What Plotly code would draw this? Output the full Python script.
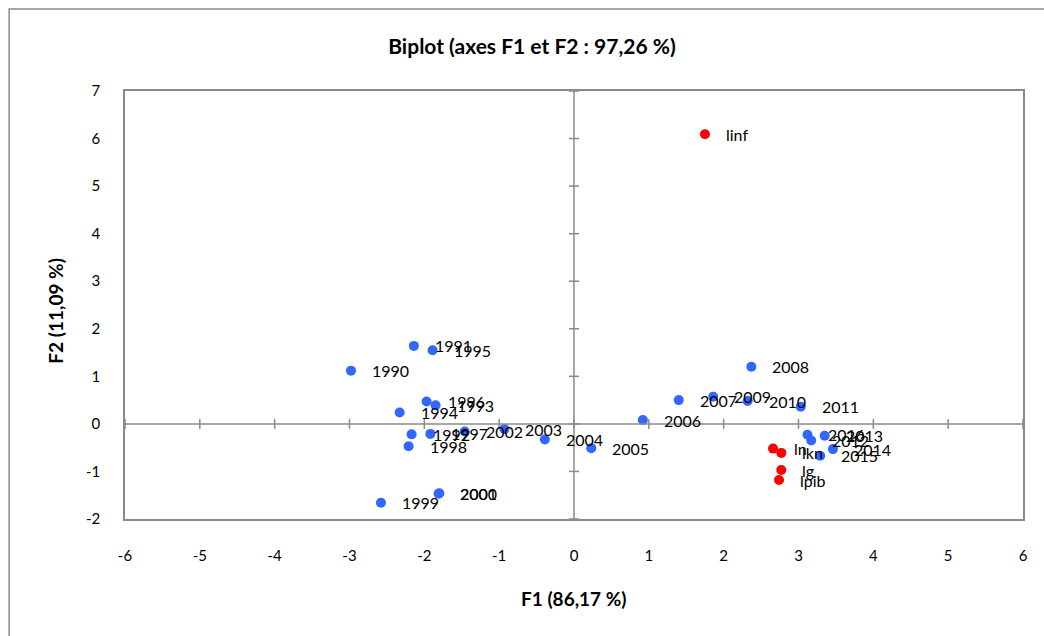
import plotly.graph_objects as go

# Observations (years)
obs_labels = ["1990", "1991", "1992", "1993", "1994", "1995", "1996", "1997", "1998",
              "1999", "2000", "2001", "2002", "2003", "2004", "2005", "2006", "2007",
              "2008", "2009", "2010", "2011", "2012", "2013", "2014", "2015", "2016"]
obs_f1 = [-2.98, -2.14, -2.17, -1.85, -2.33, -1.89, -1.97, -1.92, -2.21,
          -2.58, -1.80, -1.81, -1.46, -0.93, -0.39, 0.23, 0.92, 1.40,
          2.37, 1.86, 2.32, 3.03, 3.17, 3.35, 3.46, 3.29, 3.12]
obs_f2 = [1.12, 1.64, -0.22, 0.39, 0.24, 1.55, 0.47, -0.21, -0.47,
          -1.66, -1.46, -1.47, -0.16, -0.11, -0.33, -0.51, 0.08, 0.50,
          1.20, 0.57, 0.48, 0.36, -0.35, -0.25, -0.53, -0.67, -0.23]

# Variables
var_labels = ["linf", "ln", "lkn", "lg", "lpib"]
var_f1 = [1.75, 2.66, 2.77, 2.77, 2.74]
var_f2 = [6.09, -0.52, -0.61, -0.97, -1.18]

x_ticks = [-6, -5, -4, -3, -2, -1, 0, 1, 2, 3, 4, 5, 6]
y_ticks = [-2, -1, 0, 1, 2, 3, 4, 5, 6, 7]

FONT = "Lato"
GRAY = "#8a8a8a"
BLUE = "#3366FF"
RED = "#FF0000"

fig = go.Figure()
fig.add_trace(go.Scatter(x=obs_f1, y=obs_f2, mode="markers",
                         marker=dict(color=BLUE, size=10), hoverinfo="skip"))
fig.add_trace(go.Scatter(x=var_f1, y=var_f2, mode="markers",
                         marker=dict(color=RED, size=10), hoverinfo="skip"))

annotations = []
for lab, xv, yv in list(zip(obs_labels, obs_f1, obs_f2)) + list(zip(var_labels, var_f1, var_f2)):
    annotations.append(dict(x=xv, y=yv, xref="x", yref="y", text=lab, showarrow=False,
                            xanchor="left", yanchor="middle", xshift=19,
                            font=dict(family=FONT, size=16, color="#000000")))

annotations.append(dict(x=0.5, y=-0.1846, xref="paper", yref="paper", text="<b>F1 (86,17 %)</b>",
                        showarrow=False, xanchor="center", yanchor="middle",
                        font=dict(family=FONT, size=19, color="#000000")))
annotations.append(dict(x=-0.0772, y=0.486, xref="paper", yref="paper", text="<b>F2 (11,09 %)</b>",
                        showarrow=False, xanchor="center", yanchor="middle", textangle=-90,
                        font=dict(family=FONT, size=19, color="#000000")))

shapes = []
# zero lines
shapes.append(dict(type="line", xref="x", yref="y", x0=x_ticks[0], x1=x_ticks[-1], y0=0, y1=0,
                   line=dict(color=GRAY, width=1.5)))
shapes.append(dict(type="line", xref="x", yref="y", x0=0, x1=0, y0=y_ticks[0], y1=y_ticks[-1],
                   line=dict(color=GRAY, width=1.5)))
# crossing tick marks on zero lines
for t in x_ticks:
    shapes.append(dict(type="line", xref="x", yref="y", ysizemode="pixel", yanchor=0,
                       x0=t, x1=t, y0=-5, y1=5, line=dict(color=GRAY, width=1.5)))
for t in y_ticks:
    shapes.append(dict(type="line", xref="x", yref="y", xsizemode="pixel", xanchor=0,
                       y0=t, y1=t, x0=-5, x1=5, line=dict(color=GRAY, width=1.5)))
# outer chart frame
shapes.append(dict(type="rect", xref="paper", yref="paper", x0=-0.129, x1=1.2, y0=-0.4, y1=1.1916,
                   line=dict(color=GRAY, width=1.5), fillcolor="rgba(0,0,0,0)", layer="below"))

fig.update_layout(
    width=1044, height=636,
    margin=dict(l=125, r=21, t=91, b=117),
    paper_bgcolor="white", plot_bgcolor="white",
    showlegend=False,
    title=dict(text="<b>Biplot (axes F1 et F2 : 97,26 %)</b>", x=532 / 1044, xref="container",
               xanchor="center", y=1 - 47 / 636, yref="container", yanchor="middle",
               font=dict(family=FONT, size=21, color="#000000")),
    xaxis=dict(range=[x_ticks[0], x_ticks[-1]], tickvals=x_ticks, ticktext=[str(v) for v in x_ticks],
               showgrid=False, zeroline=False, showline=True, mirror=True, linecolor=GRAY, linewidth=1.5,
               ticks="", ticklabelstandoff=22, tickfont=dict(family=FONT, size=15, color="#000000")),
    yaxis=dict(range=[y_ticks[0], y_ticks[-1]], tickvals=y_ticks, ticktext=[str(v) for v in y_ticks],
               showgrid=False, zeroline=False, showline=True, mirror=True, linecolor=GRAY, linewidth=1.5,
               ticks="", ticklabelstandoff=20, tickfont=dict(family=FONT, size=15, color="#000000")),
    annotations=annotations,
    shapes=shapes,
)

fig.write_html("out.html")
